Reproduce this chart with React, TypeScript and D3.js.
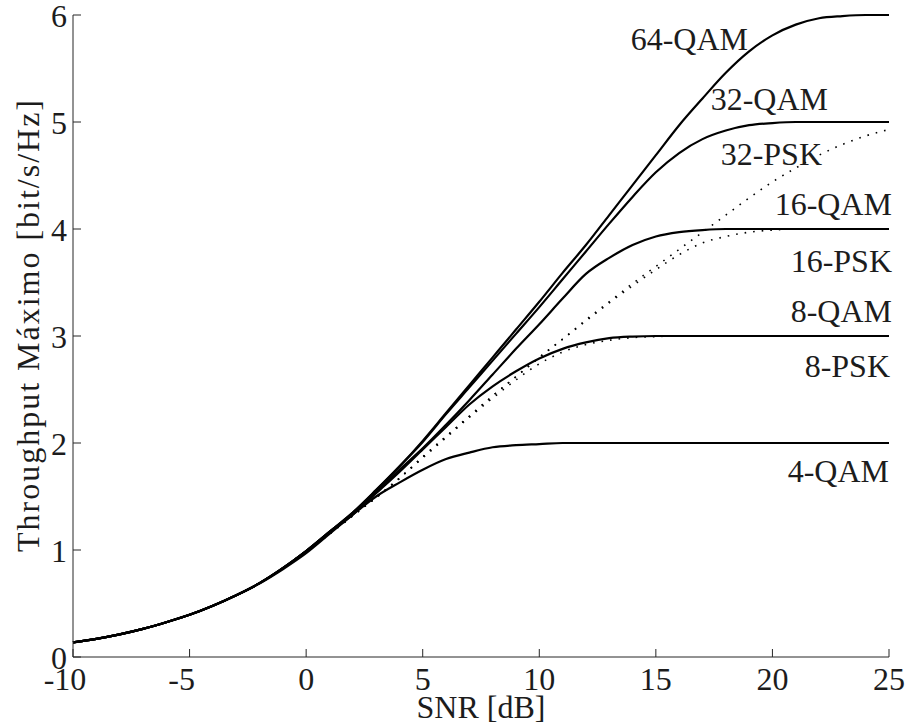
import React from "react";
import * as d3 from "d3";

const snr = [-10, -9, -8, -7, -6, -5, -4, -3, -2, -1, 0, 1, 2, 3, 4, 5, 6, 7, 8, 9, 10, 11, 12, 13, 14, 15, 16, 17, 18, 19, 20, 21, 22, 23, 24, 25];

const low = [0.137, 0.17, 0.212, 0.263, 0.325, 0.395, 0.48, 0.578, 0.69, 0.83, 0.99];

const qam64 = [...low, 1.17, 1.35, 1.56, 1.78, 2.02, 2.28, 2.54, 2.8, 3.06, 3.32, 3.59, 3.85, 4.13, 4.41, 4.69, 4.97, 5.22, 5.46, 5.66, 5.81, 5.91, 5.97, 5.99, 6.0, 6.0];
const qam32 = [...low, 1.17, 1.35, 1.56, 1.78, 2.01, 2.27, 2.52, 2.77, 3.02, 3.27, 3.53, 3.79, 4.05, 4.3, 4.53, 4.71, 4.84, 4.92, 4.97, 4.99, 5.0, 5.0, 5.0, 5.0, 5.0];
const qam16 = [...low, 1.17, 1.34, 1.54, 1.75, 1.95, 2.17, 2.4, 2.64, 2.88, 3.11, 3.35, 3.58, 3.73, 3.85, 3.93, 3.97, 3.99, 4.0, 4.0, 4.0, 4.0, 4.0, 4.0, 4.0, 4.0];
const qam8 = [...low, 1.16, 1.33, 1.53, 1.73, 1.94, 2.15, 2.36, 2.53, 2.67, 2.79, 2.88, 2.94, 2.98, 2.995, 3.0, 3.0, 3.0, 3.0, 3.0, 3.0, 3.0, 3.0, 3.0, 3.0, 3.0];
const qam4 = [0.137, 0.17, 0.212, 0.263, 0.325, 0.395, 0.479, 0.576, 0.687, 0.82, 0.97, 1.15, 1.33, 1.5, 1.63, 1.75, 1.85, 1.91, 1.96, 1.98, 1.99, 2.0, 2.0, 2.0, 2.0, 2.0, 2.0, 2.0, 2.0, 2.0, 2.0, 2.0, 2.0, 2.0, 2.0, 2.0];
const psk8 = [...low, 1.15, 1.32, 1.49, 1.67, 1.86, 2.05, 2.24, 2.42, 2.59, 2.74, 2.85, 2.92, 2.96, 2.985, 2.995, 3.0, 3.0, 3.0, 3.0, 3.0, 3.0, 3.0, 3.0, 3.0, 3.0];
const psk16 = [...low, 1.15, 1.32, 1.49, 1.67, 1.87, 2.06, 2.25, 2.44, 2.62, 2.8, 2.97, 3.14, 3.31, 3.47, 3.62, 3.76, 3.87, 3.93, 3.97, 3.99, 4.0, 4.0, 4.0, 4.0, 4.0];
const psk32 = [...low, 1.15, 1.32, 1.49, 1.67, 1.87, 2.06, 2.25, 2.44, 2.62, 2.8, 2.97, 3.15, 3.32, 3.49, 3.65, 3.81, 3.97, 4.13, 4.29, 4.44, 4.57, 4.69, 4.79, 4.87, 4.93];

const xTicks = [-10, -5, 0, 5, 10, 15, 20, 25];
const yTicks = [0, 1, 2, 3, 4, 5, 6];

const solidSeries = [qam64, qam32, qam16, qam8, qam4];
const dottedSeries = [psk8, psk16, psk32];

const labelNames = ["64-QAM", "32-QAM", "32-PSK", "16-QAM", "16-PSK", "8-QAM", "8-PSK", "4-QAM"];
const labelX = [748, 828, 822, 892, 892, 892, 890, 889];
const labelY = [50, 110, 165, 215, 272, 322, 377, 482];

export default function App() {
  const x = d3.scaleLinear().domain([-10, 25]).range([73, 889]);
  const y = d3.scaleLinear().domain([0, 6]).range([657, 15]);
  const line = d3
    .line<number>()
    .x((_, i) => x(snr[i]))
    .y((d) => y(d))
    .curve(d3.curveMonotoneX);
  const font = "'Liberation Serif', 'Times New Roman', serif";
  const txt = "#1c1c1c";
  return (
    <svg width={907} height={728} style={{ position: "absolute", left: 0, top: 0, background: "#fff" }}>
      <rect width={907} height={728} fill="#fff" />
      {dottedSeries.map((s, i) => (
        <path key={"d" + i} d={line(s) || ""} fill="none" stroke="#000" strokeWidth={1.6} strokeDasharray="1.6 7" />
      ))}
      {solidSeries.map((s, i) => (
        <path key={"s" + i} d={line(s) || ""} fill="none" stroke="#000" strokeWidth={2.2} strokeLinejoin="round" />
      ))}
      <line x1={x(-10)} x2={x(-10)} y1={y(0)} y2={y(6)} stroke="#262626" strokeWidth={1} />
      <line x1={x(-10)} x2={x(25)} y1={y(0)} y2={y(0)} stroke="#262626" strokeWidth={1} />
      {xTicks.map((t) => (
        <g key={"xt" + t}>
          <line x1={x(t)} x2={x(t)} y1={y(0)} y2={y(0) - 8} stroke="#262626" strokeWidth={1} />
          <text x={x(t) - (t < 0 ? 8 : 0)} y={690} textAnchor="middle" fontFamily={font} fontSize={32} fill={txt}>
            {String(t)}
          </text>
        </g>
      ))}
      {yTicks.map((t) => (
        <g key={"yt" + t}>
          <line x1={x(-10)} x2={x(-10) + 8} y1={y(t)} y2={y(t)} stroke="#262626" strokeWidth={1} />
          <text x={67} y={y(t) + 12} textAnchor="end" fontFamily={font} fontSize={32} fill={txt}>
            {String(t)}
          </text>
        </g>
      ))}
      {labelNames.map((n, i) => (
        <text key={n} x={labelX[i]} y={labelY[i]} textAnchor="end" fontFamily={font} fontSize={32} fill={txt}>
          {n}
        </text>
      ))}
      <text x={481} y={718} textAnchor="middle" fontFamily={font} fontSize={32} fill={txt}>
        SNR [dB]
      </text>
      <text
        transform="translate(39,326) rotate(-90)"
        textAnchor="middle"
        fontFamily={font}
        fontSize={32}
        fill={txt}
        textLength={452}
        lengthAdjust="spacing"
      >
        Throughput Máximo [bit/s/Hz]
      </text>
    </svg>
  );
}
